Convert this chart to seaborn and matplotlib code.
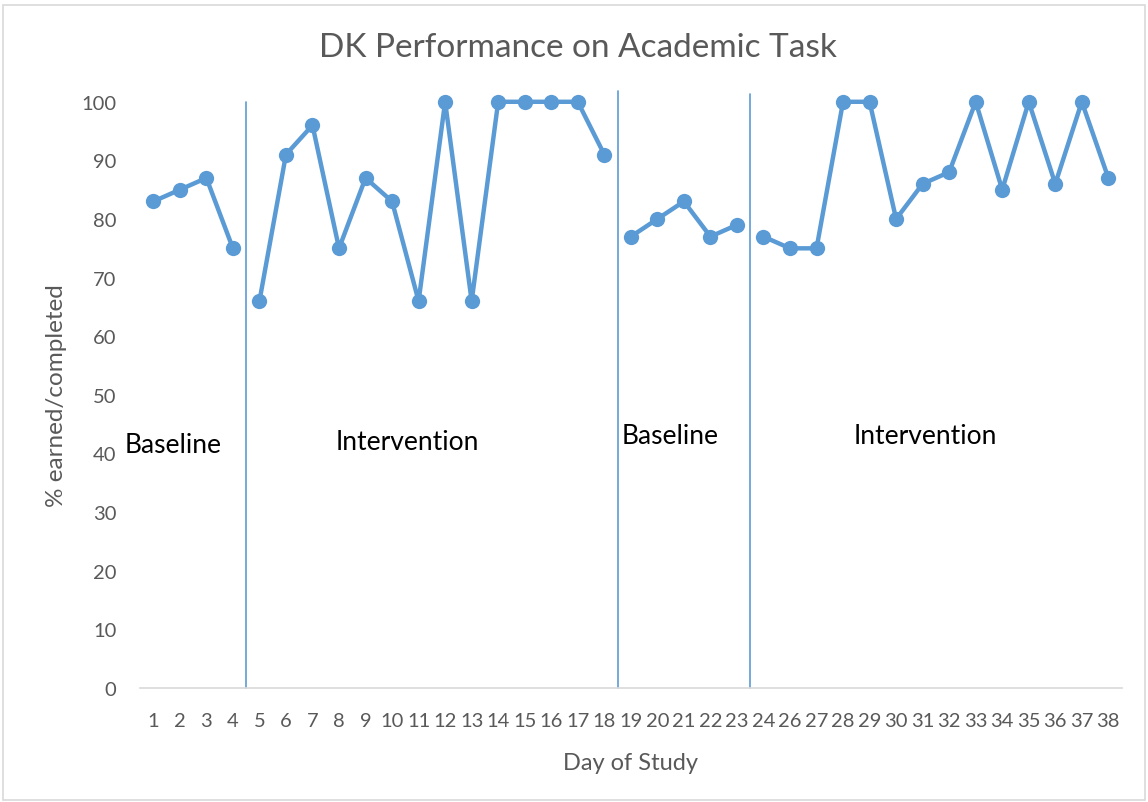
import pandas as pd
import numpy as np
import matplotlib.pyplot as plt
import seaborn as sns
from matplotlib.patches import Rectangle

# Data
days = [1, 2, 3, 4, 5, 6, 7, 8, 9, 10, 11, 12, 13, 14, 15, 16, 17, 18,
        19, 20, 21, 22, 23, 24, 26, 27, 28, 29, 30, 31, 32, 33, 34, 35, 36, 37, 38]
scores = [83, 85, 87, 75,
          66, 91, 96, 75, 87, 83, 66, 100, 66, 100, 100, 100, 100, 91,
          77, 80, 83, 77, 79,
          77, 75, 75, 100, 100, 80, 86, 88, 100, 85, 100, 86, 100, 87]
phase_names = ['Baseline', 'Intervention', 'Baseline', 'Intervention']
phase_lengths = [4, 14, 5, 14]

segment = np.repeat(np.arange(len(phase_lengths)), phase_lengths)
df = pd.DataFrame({'pos': np.arange(len(days)), 'score': scores, 'segment': segment})

sns.set_style('white')
plt.rcParams['font.family'] = ['Lato', 'DejaVu Sans']
grey = '#595959'
blue = '#5B9BD5'

fig = plt.figure(figsize=(11.48, 8.03), dpi=100)
ax = fig.add_axes([0.122, 0.142, 0.855, 0.730])

sns.lineplot(data=df, x='pos', y='score', units='segment', estimator=None,
             color=blue, linewidth=3.2, marker='o', markersize=11,
             markeredgewidth=0, ax=ax)
for ln in ax.lines:
    ln.set_clip_on(False)

# phase change lines and labels
bounds = np.cumsum(phase_lengths)
line_tops = [1.0, 1.018, 1.014]
for b, top in zip(bounds[:-1], line_tops):
    ax.axvline(b - 0.5, ymin=0, ymax=top, color=blue, linewidth=1.2, clip_on=False)

label_x = [0.76, 9.56, 19.5, 29.1]
label_y = [41.6, 42.1, 43, 43]
for name, x, y in zip(phase_names, label_x, label_y):
    ax.text(x, y, name, fontsize=19, color='black', ha='center', va='center')

ax.set_xlim(-0.5, len(days) - 0.5)
ax.set_ylim(0, 100)
ax.set_yticks(range(0, 101, 10))
ax.set_xticks(df['pos'])
ax.set_xticklabels([str(d) for d in days])
ax.tick_params(axis='both', length=0, labelsize=14.5, labelcolor=grey)
ax.tick_params(axis='x', pad=17)
ax.tick_params(axis='y', pad=17)

for side in ['top', 'right', 'left']:
    ax.spines[side].set_visible(False)
ax.spines['bottom'].set_color('#D9D9D9')
ax.spines['bottom'].set_linewidth(1.2)

# title is centred on the whole chart area, not the plot area
fig.text(0.503, 0.940, 'DK Performance on Academic Task', fontsize=24, color=grey,
         ha='center', va='center')
ax.set_xlabel('Day of Study', fontsize=17, color=grey, labelpad=17)
ax.set_ylabel('% earned/completed', fontsize=17.5, color=grey, labelpad=10)

fig.patches.append(Rectangle((0.003, 0.003), 0.994, 0.990, transform=fig.transFigure,
                             fill=False, edgecolor='#D9D9D9', linewidth=1.2))

plt.savefig('out.png', dpi=100)
